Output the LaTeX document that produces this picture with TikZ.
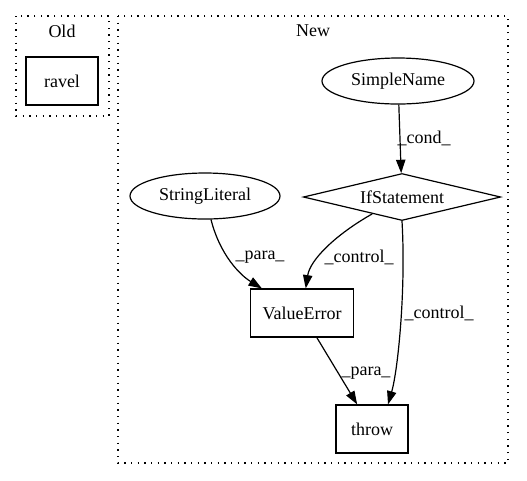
\documentclass[tikz,border=0pt]{standalone}
\usepackage{fontspec}
\setmainfont{Liberation Serif}
\usetikzlibrary{arrows.meta,shapes.geometric}

\begin{document}
\begin{tikzpicture}[x=0.75pt,y=0.75pt,yscale=-1,
  every node/.style={font=\fontsize{13.5}{16}\selectfont},
  cluster/.style={line width=1pt,dash pattern={on 1pt off 4pt}},
  opbox/.style={draw,line width=0.9pt,rectangle,minimum width=54pt,minimum height=36pt,inner xsep=9pt},
  leaf/.style={draw,line width=0.9pt,ellipse,minimum height=34.5pt,inner sep=0pt},
  cond/.style={draw,line width=0.9pt,diamond,aspect=4.2,minimum width=148pt,minimum height=35.25pt,inner sep=0pt},
  edge/.style={line width=0.9pt,-{Triangle[length=10pt,width=7pt]}},
  elabel/.style={inner sep=0.75pt}]
\useasboundingbox (0,0) rectangle (527,480);

% clusters
\draw [cluster] (16,16) rectangle (109,116) ;
\draw [cluster] (118,16) rectangle (508,463) ;
\node (oldlbl) at (62,31) {Old};
\node (newlbl) at (313,31) {New};

% nodes
\node [opbox] (ravel) at (62,81) {ravel};
\node [leaf,minimum width=114pt] (sname) at (398,81) {SimpleName};
\node [cond] (ifst) at (402,197) {IfStatement};
\node [leaf,minimum width=112.5pt] (slit) at (205,196) {StringLiteral};
\node [opbox] (verr) at (302,313) {ValueError};
\node [opbox] (thr) at (372,429) {throw};

% edges
\draw [edge] (sname) -- (ifst) ;
\draw [edge] (slit) .. controls (220,255) and (240,275) .. (verr) ;
\draw [edge] (ifst) .. controls (335,235) and (310,260) .. (verr) ;
\draw [edge] (ifst.south) .. controls (406,290) and (398,370) .. ([xshift=12pt]thr.north) ;
\draw [edge] (verr) -- (thr) ;

% edge labels
\node [elabel] (lcond) at (424,138) {\_cond\_};
\node [elabel] (lpara1) at (260,257) {\_para\_};
\node [elabel] (lctrl1) at (359,257) {\_control\_};
\node [elabel] (lctrl2) at (439,313) {\_control\_};
\node [elabel] (lpara2) at (366,373) {\_para\_};

\end{tikzpicture}
\end{document}
